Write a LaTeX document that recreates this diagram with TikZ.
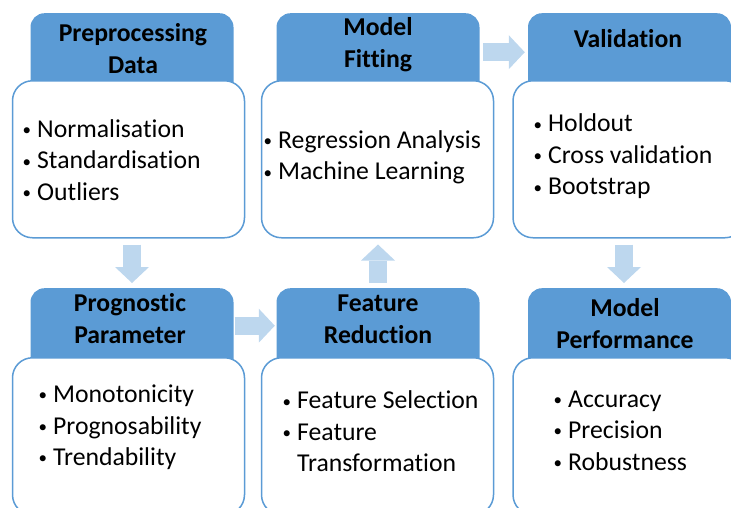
\documentclass[tikz,border=0pt]{standalone}
\usepackage{fontspec}
\setmainfont{Carlito}[Ligatures=NoCommon]
\usepackage{tikz}
\usetikzlibrary{arrows.meta,positioning,calc}

\definecolor{tabblue}{HTML}{5B9BD5}
\definecolor{flowblue}{HTML}{BDD7EE}
\newcommand{\itembul}{\makebox[16pt][l]{\hspace{1.5pt}\raisebox{1.8pt}{\fontsize{17}{17}\selectfont\textbullet}}}

\begin{document}
\begin{tikzpicture}[
        x=1pt, y=-1pt,
        % Block styles
        tab/.style={
            rectangle,
            fill=tabblue,
            rounded corners=14pt,
            minimum width=203pt,
            minimum height=100pt,
            inner sep=0pt,
            anchor=north
        },
        card/.style={
            rectangle,
            draw=tabblue,
            line width=1.5pt,
            fill=white,
            rounded corners=20pt,
            minimum width=232pt,
            minimum height=157pt,
            inner sep=0pt,
            anchor=north
        },
        title/.style={font=\fontsize{25.7}{32}\selectfont\bfseries, align=center, inner sep=0pt},
        items/.style={font=\fontsize{25.7}{31.5}\selectfont, align=left, anchor=west, inner sep=0pt},
        flow/.style={draw=flowblue, line width=18pt, -{Triangle[length=16pt, width=34pt, line width=0pt]}}
    ]

    \useasboundingbox (0,0) rectangle (731,507);
    \clip (0,0) rectangle (731,507);

    % Tabs
    \node[tab] (h1) at (132,13) {};
    \node[tab] (h2) at (378,13) {};
    \node[tab] (h3) at (629.5,13) {};
    \node[tab] (h4) at (132,288) {};
    \node[tab] (h5) at (378,288) {};
    \node[tab] (h6) at (629.5,288) {};

    % Cards
    \node[card] (b1) at (128.5,80) {};
    \node[card] (b2) at (377.5,80) {};
    \node[card] (b3) at (629,80) {};
    \node[card] (b4) at (128.5,357) {};
    \node[card] (b5) at (377.5,357) {};
    \node[card] (b6) at (629,357) {};

    % Titles
    \node[title] (t1) at (133,49) {Preprocessing\\Data};
    \node[title] (t2) at (378,45) {Model\\Fitting};
    \node[title] (t3) at (628,39) {Validation};
    \node[title] (t4) at (130,319) {Prognostic\\Parameter};
    \node[title] (t5) at (378,319) {Feature\\Reduction};
    \node[title] (t6) at (625,324) {Model\\Performance};

    % Items
    \node[items] (l1) at (21,160) {\itembul Normalisation\\\itembul Standardisation\\\itembul Outliers};
    \node[items] (l2) at (262,157.5) {\itembul Regression Analysis\\\itembul Machine Learning};
    \node[items] (l3) at (532,156.5) {\itembul Holdout\\\itembul Cross validation\\\itembul Bootstrap};
    \node[items] (l4) at (37,427.5) {\itembul Monotonicity\\\itembul Prognosability\\\itembul Trendability};
    \node[items] (l5) at (281,431.5) {\itembul Feature Selection\\\itembul Feature\\\hspace*{16pt}Transformation};
    \node[items] (l6) at (552,430.5) {\itembul Accuracy\\\itembul Precision\\\itembul Robustness};

    % Connections
    \draw[flow, shorten <=6pt, shorten >=5pt] (b1.south -| h4.north) -- (h4.north);
    \draw[flow, shorten <=1pt, shorten >=1.5pt] ([yshift=12.5pt]h4.east) -- ([yshift=12.5pt]h5.west);
    \draw[flow, shorten <=5pt, shorten >=6pt] (h5.north) -- (b2.south -| h5.north);
    \draw[flow, shorten <=3.5pt, shorten >=3pt] ([yshift=11pt]h2.east) -- ([yshift=11pt]h3.west);
    \draw[flow, shorten <=6pt, shorten >=5pt] ([xshift=-5pt]b3.south) -- ([xshift=-5pt]b3.south |- h6.north);

\end{tikzpicture}
\end{document}
